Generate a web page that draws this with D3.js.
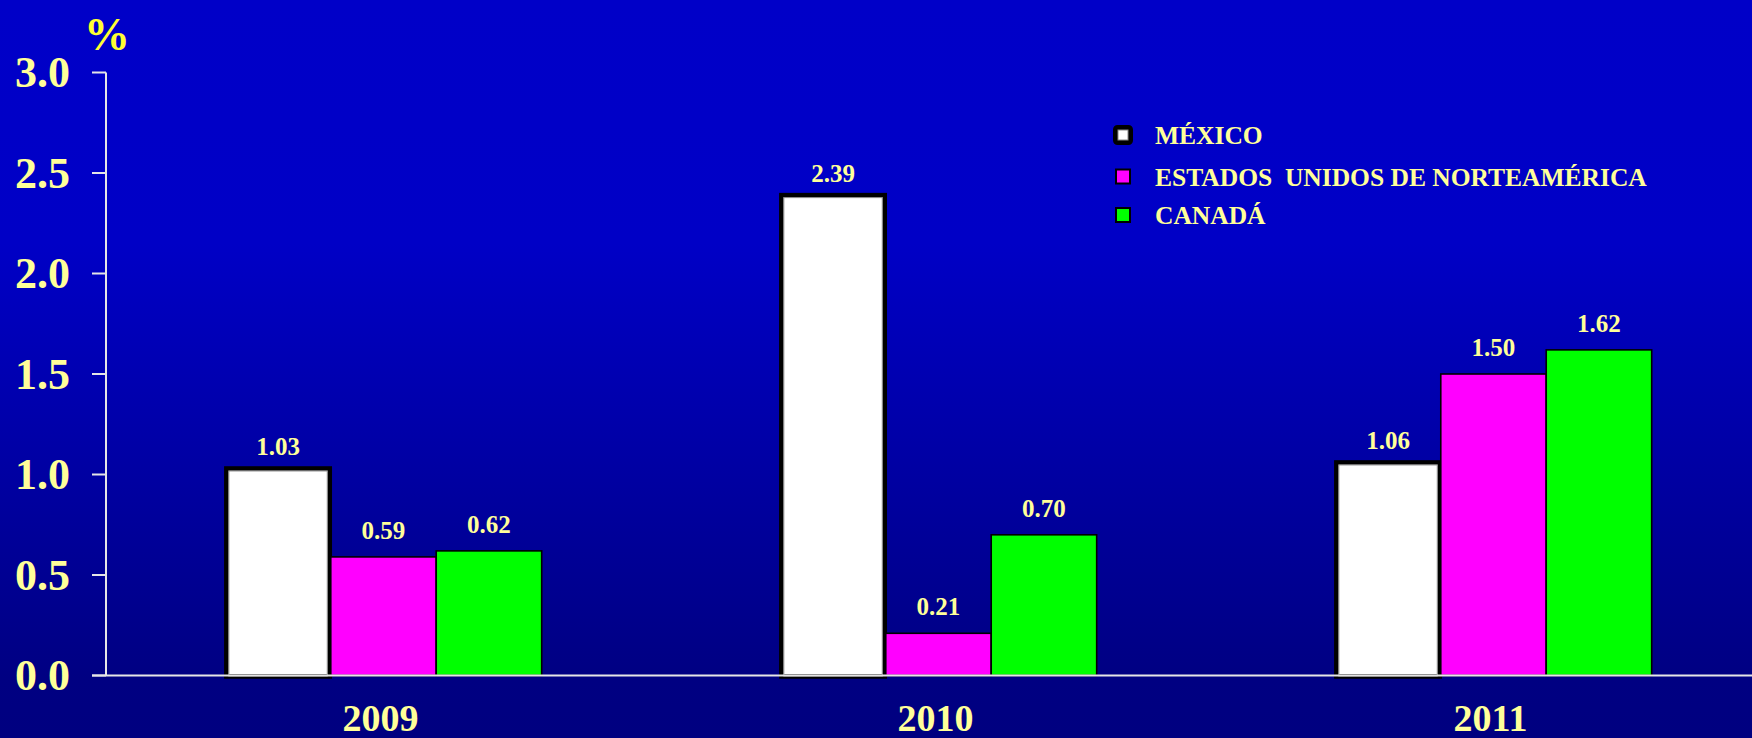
<!DOCTYPE html>
<html>
<head>
<meta charset="utf-8">
<script src="https://cdn.jsdelivr.net/npm/d3@7"></script>
<style>
  html, body { margin: 0; padding: 0; background: #000080; }
  svg { display: block; }
  text { font-family: "Liberation Serif", "Times New Roman", serif; font-weight: bold; }
</style>
</head>
<body>
<svg id="chart" width="1752" height="738"></svg>
<script>
// Annual rates (%) by country
const years = ["2009", "2010", "2011"];
const countries = ["MÉXICO", "ESTADOS  UNIDOS DE NORTEAMÉRICA", "CANADÁ"];
const mexico = [1.03, 2.39, 1.06];
const usa = [0.59, 0.21, 1.50];
const canada = [0.62, 0.70, 1.62];
const yTicks = [0.0, 0.5, 1.0, 1.5, 2.0, 2.5, 3.0];
const unitLabel = "%";

const seriesValues = [mexico, usa, canada];
const colors = ["#FFFFFF", "#FF00FF", "#00FF00"];
const textColor = "#FFFF99";

const W = 1752, H = 738;
const svg = d3.select("#chart");

// vertical background gradient
const defs = svg.append("defs");
const grad = defs.append("linearGradient").attr("id", "bg")
  .attr("x1", 0).attr("y1", 0).attr("x2", 0).attr("y2", 1);
grad.append("stop").attr("offset", "0%").attr("stop-color", "#0000C8");
grad.append("stop").attr("offset", "33%").attr("stop-color", "#0000C6");
grad.append("stop").attr("offset", "92%").attr("stop-color", "#000082");
grad.append("stop").attr("offset", "100%").attr("stop-color", "#000080");
svg.append("rect").attr("width", W).attr("height", H).attr("fill", "url(#bg)");

const axisLeft = 106, axisBottom = 675.5;
const y = d3.scaleLinear().domain([0, 3]).range([axisBottom, 72.5]);
const x0 = d3.scaleBand().domain(years).range([axisLeft, 1771])
  .paddingInner(0.43).paddingOuter(0.215);
const x1 = d3.scaleBand().domain(d3.range(countries.length)).range([0, x0.bandwidth()]);

const data = years.map((yr, i) => ({
  year: yr,
  values: seriesValues.map((s, k) => ({ k, v: s[i] }))
}));

// bars
const groups = svg.append("g").selectAll("g").data(data).join("g")
  .attr("transform", d => `translate(${x0(d.year)},0)`);

const bars = groups.selectAll("g.bar").data(d => d.values).join("g").attr("class", "bar");

// draw colored bars first, then the bordered white ones on top
bars.filter(d => d.k !== 0).append("rect")
  .attr("x", d => x1(d.k))
  .attr("y", d => y(d.v))
  .attr("width", x1.bandwidth())
  .attr("height", d => y(0) - y(d.v))
  .attr("fill", d => colors[d.k])
  .attr("stroke", "#000").attr("stroke-width", 1.6);

const mx = bars.filter(d => d.k === 0);
mx.append("rect")
  .attr("x", d => x1(d.k) + 1)
  .attr("y", d => y(d.v))
  .attr("width", x1.bandwidth() - 2)
  .attr("height", d => y(0) - y(d.v) + 1)
  .attr("fill", colors[0])
  .attr("stroke", "#000").attr("stroke-width", 4.5);
mx.append("rect")
  .attr("x", d => x1(d.k) + 3.5)
  .attr("y", d => y(d.v) + 2.5)
  .attr("width", x1.bandwidth() - 7)
  .attr("height", d => y(0) - y(d.v) - 2)
  .attr("fill", "none")
  .attr("stroke", "#8a8a8a").attr("stroke-width", 1);

// value labels
bars.append("text")
  .attr("x", d => x1(d.k) + x1.bandwidth() / 2)
  .attr("y", d => y(d.v) - (d.k === 0 ? 13 : 18))
  .attr("text-anchor", "middle")
  .attr("font-size", 25)
  .attr("fill", textColor)
  .text(d => d.v.toFixed(2));

// axes
const axisColor = "#E6E6E6";
svg.append("line").attr("x1", axisLeft).attr("x2", axisLeft)
  .attr("y1", y(3)).attr("y2", axisBottom)
  .attr("stroke", axisColor).attr("stroke-width", 2);
svg.append("line").attr("x1", 92).attr("x2", W)
  .attr("y1", axisBottom).attr("y2", axisBottom)
  .attr("stroke", axisColor).attr("stroke-width", 2);

const yt = svg.append("g").selectAll("g").data(yTicks).join("g")
  .attr("transform", d => `translate(0,${y(d)})`);
yt.append("line").attr("x1", 92).attr("x2", axisLeft)
  .attr("stroke", axisColor).attr("stroke-width", 2);
yt.append("text")
  .attr("x", 70).attr("dy", "0.34em")
  .attr("text-anchor", "end")
  .attr("font-size", 44)
  .attr("fill", textColor)
  .text(d => d.toFixed(1));

svg.append("text").attr("x", 107).attr("y", 50)
  .attr("text-anchor", "middle").attr("font-size", 46)
  .attr("fill", "#FFFF33").text(unitLabel);

// category labels
svg.append("g").selectAll("text").data(years).join("text")
  .attr("x", d => x0(d) + x0.bandwidth() / 2 - 3)
  .attr("y", 731)
  .attr("text-anchor", "middle")
  .attr("font-size", 38)
  .attr("fill", textColor)
  .text(d => d);

// legend
const legendY = [135, 176.5, 215];
const lg = svg.append("g").selectAll("g").data(countries).join("g")
  .attr("transform", (d, i) => `translate(1123,${legendY[i]})`);
lg.each(function(d, i) {
  const g = d3.select(this);
  if (i === 0) {
    g.append("rect").attr("x", -7.5).attr("y", -7.5).attr("width", 15).attr("height", 15)
      .attr("rx", 2)
      .attr("fill", colors[i]).attr("stroke", "#000").attr("stroke-width", 5);
    g.append("rect").attr("x", -5).attr("y", -5).attr("width", 10).attr("height", 10)
      .attr("fill", "none").attr("stroke", "#8a8a8a").attr("stroke-width", 1);
  } else {
    g.append("rect").attr("x", -7).attr("y", -7).attr("width", 14).attr("height", 14)
      .attr("fill", colors[i]).attr("stroke", "#000").attr("stroke-width", 2);
  }
});
lg.append("text")
  .attr("x", 32).attr("dy", "0.36em")
  .attr("font-size", 25.5)
  .attr("fill", textColor)
  .style("white-space", "pre")
  .text(d => d);
</script>
</body>
</html>
